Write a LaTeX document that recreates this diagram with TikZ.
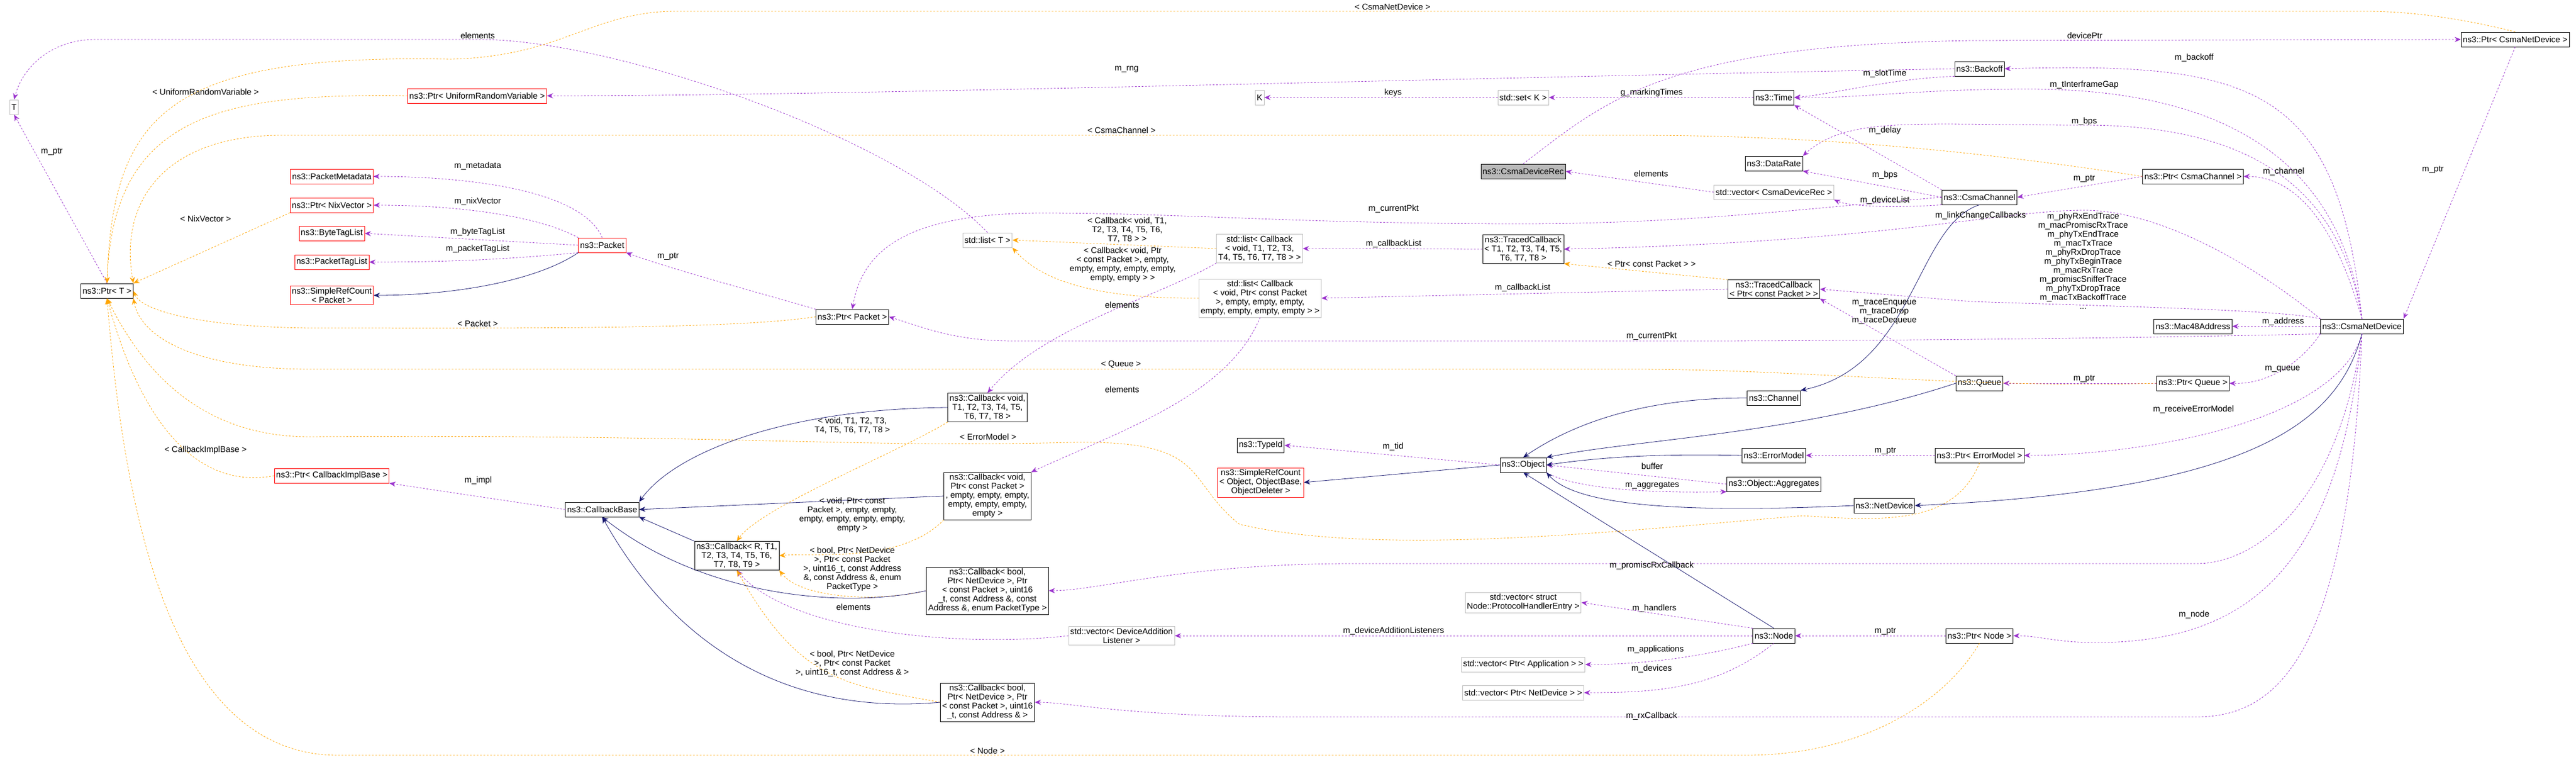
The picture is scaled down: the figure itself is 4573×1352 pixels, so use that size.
\documentclass[tikz,border=0pt]{standalone}
\usepackage{fontspec}
\setmainfont{Liberation Sans}
\usetikzlibrary{arrows.meta}
\definecolor{usecol}{HTML}{9A32CD}
\definecolor{tplcol}{HTML}{FFA500}
\definecolor{inhcol}{HTML}{191970}
\begin{document}
\begin{tikzpicture}[x=1pt,y=-1pt,
  cls/.style={draw=black,thick,fill=white,align=center,inner sep=3pt,minimum height=26pt,font=\fontsize{15}{16}\selectfont},
  redcls/.style={cls,draw=red},
  ext/.style={cls,draw=gray!50},
  sel/.style={cls,fill=gray!55},
  lbl/.style={align=center,inner sep=0pt,font=\fontsize{15}{16}\selectfont},
  use/.style={draw=usecol,dashed,thick,-{Stealth[length=11pt,width=9pt]}},
  tpl/.style={draw=tplcol,dashed,thick,-{Stealth[length=11pt,width=9pt]}},
  inh/.style={draw=inhcol,thick,-{Stealth[length=11pt,width=9pt]}}]
\useasboundingbox (0,0) rectangle (4573,1352);

% classes
\node[ext] (t) at (25,190) {T};
\node[cls] (ptrt) at (190,516) {ns3::Ptr< T >};
\node[redcls] (purv) at (847,170) {ns3::Ptr< UniformRandomVariable >};
\node[redcls] (pmeta) at (589,313) {ns3::PacketMetadata};
\node[redcls] (pnix) at (589,364) {ns3::Ptr< NixVector >};
\node[redcls] (pbyte) at (589,414) {ns3::ByteTagList};
\node[redcls] (ptag) at (589,465) {ns3::PacketTagList};
\node[redcls] (srcpkt) at (589,524) {ns3::SimpleRefCount\\< Packet >};
\node[redcls] (packet) at (1069,435) {ns3::Packet};
\node[redcls] (pcib) at (589,844) {ns3::Ptr< CallbackImplBase >};
\node[cls] (cbbase) at (1069,904) {ns3::CallbackBase};
\node[cls] (ppkt) at (1513,562) {ns3::Ptr< Packet >};
\node[ext] (listt) at (1753,426) {std::list< T >};
\node[cls] (cbv1) at (1753,723) {ns3::Callback< void,\\T1, T2, T3, T4, T5,\\T6, T7, T8 >};
\node[cls] (cbvp) at (1753,880) {ns3::Callback< void,\\Ptr< const Packet >\\, empty, empty, empty,\\empty, empty, empty,\\empty >};
\node[cls] (cbr) at (1308,986) {ns3::Callback< R, T1,\\T2, T3, T4, T5, T6,\\T7, T8, T9 >};
\node[cls] (cbpt) at (1753,1048) {ns3::Callback< bool,\\Ptr< NetDevice >, Ptr\\< const Packet >, uint16\\\_t, const Address \&, const\\Address \&, enum PacketType >};
\node[ext] (vdal) at (1991,1128) {std::vector< DeviceAddition\\Listener >};
\node[cls] (cbaddr) at (1753,1246) {ns3::Callback< bool,\\Ptr< NetDevice >, Ptr\\< const Packet >, uint16\\\_t, const Address \& >};
\node[ext] (k) at (2236,173) {K};
\node[ext] (lcb1) at (2236,441) {std::list< Callback\\< void, T1, T2, T3,\\T4, T5, T6, T7, T8 > >};
\node[ext] (lcbp) at (2237,529) {std::list< Callback\\< void, Ptr< const Packet\\>, empty, empty, empty,\\empty, empty, empty, empty > >};
\node[cls] (typeid) at (2238,790) {ns3::TypeId};
\node[redcls] (srcobj) at (2238,856) {ns3::SimpleRefCount\\< Object, ObjectBase,\\ObjectDeleter >};
\node[ext] (sset) at (2704,173) {std::set< K >};
\node[sel] (cdrec) at (2704,304) {ns3::CsmaDeviceRec};
\node[cls] (tcb1) at (2704,442) {ns3::TracedCallback\\< T1, T2, T3, T4, T5,\\T6, T7, T8 >};
\node[cls] (object) at (2704,825) {ns3::Object};
\node[ext] (vphe) at (2704,1069) {std::vector< struct\\Node::ProtocolHandlerEntry >};
\node[ext] (vapp) at (2704,1179) {std::vector< Ptr< Application > >};
\node[ext] (vdev) at (2704,1229) {std::vector< Ptr< NetDevice > >};
\node[cls] (time) at (3149,173) {ns3::Time};
\node[cls] (drate) at (3149,290) {ns3::DataRate};
\node[ext] (vcdrec) at (3149,341) {std::vector< CsmaDeviceRec >};
\node[cls] (tcbp) at (3149,513) {ns3::TracedCallback\\< Ptr< const Packet > >};
\node[cls] (channel) at (3149,706) {ns3::Channel};
\node[cls] (errm) at (3149,808) {ns3::ErrorModel};
\node[cls] (aggr) at (3149,859) {ns3::Object::Aggregates};
\node[cls] (node) at (3149,1128) {ns3::Node};
\node[cls] (netdev) at (3345,897) {ns3::NetDevice};
\node[cls] (backoff) at (3514,122) {ns3::Backoff};
\node[cls] (cchan) at (3514,350) {ns3::CsmaChannel};
\node[cls] (queue) at (3514,680) {ns3::Queue};
\node[cls] (perr) at (3514,808) {ns3::Ptr< ErrorModel >};
\node[cls] (pnode) at (3514,1128) {ns3::Ptr< Node >};
\node[cls] (pcchan) at (3893,313) {ns3::Ptr< CsmaChannel >};
\node[cls] (mac) at (3893,579) {ns3::Mac48Address};
\node[cls] (pqueue) at (3893,680) {ns3::Ptr< Queue >};
\node[cls] (cnd) at (4193,579) {ns3::CsmaNetDevice};
\node[cls] (pcnd) at (4465,70) {ns3::Ptr< CsmaNetDevice >};

% usage
\draw[use] (listt.north) .. controls (1600,250) and (1100,70) .. (850,70) -- (170,70) .. controls (90,70) and (40,120) .. (t.north);
\draw[use] (ptrt.north) -- (t.south);
\draw[use] (backoff.west) .. controls (2500,140) and (1500,170) .. (purv.east);
\draw[use] (packet.north) .. controls (1030,330) and (800,313) .. (pmeta.east);
\draw[use] (packet.north west) .. controls (950,380) and (800,364) .. (pnix.east);
\draw[use] (packet.west) -- (pbyte.east);
\draw[use] (packet.south west) .. controls (900,460) and (800,465) .. (ptag.east);
\draw[use] (ppkt.north west) .. controls (1350,520) and (1200,480) .. (packet.south east);
\draw[use] (cchan.west) .. controls (3200,370) and (3000,397) .. (2700,397) .. controls (2300,397) and (2100,378) .. (1850,378) .. controls (1600,378) and (1530,450) .. (ppkt.north);
\draw[use] (cnd.south west) .. controls (3800,600) and (3300,605) .. (3000,605) -- (1800,605) .. controls (1700,605) and (1650,585) .. (ppkt.east);
\draw[use] (sset.west) -- (k.east);
\draw[use] (time.west) -- (sset.east);
\draw[use] (backoff.south west) .. controls (3350,140) and (3250,168) .. (time.east);
\draw[use] (cnd.north) .. controls (4150,250) and (3900,158) .. (3600,158) .. controls (3400,158) and (3300,175) .. (time.east);
\draw[use] (cchan.north west) -- (time.south east);
\draw[use] (cdrec.north) .. controls (2850,180) and (2950,80) .. (3500,72) -- (pcnd.west);
\draw[use] (vcdrec.west) -- (cdrec.east);
\draw[use] (cchan.west) -- (drate.south east);
\draw[use] (cnd.north) .. controls (4150,300) and (3950,222) .. (3700,222) .. controls (3400,222) and (3280,205) .. (drate.north east);
\draw[use] (cchan.south west) .. controls (3350,370) and (3280,365) .. (vcdrec.south east);
\draw[use] (cnd.north) .. controls (4150,150) and (4000,110) .. (backoff.east);
\draw[use] (cnd.north) .. controls (4160,450) and (4100,313) .. (pcchan.east);
\draw[use] (pcchan.west) -- (cchan.east);
\draw[use] (pcnd.south) -- (cnd.north east);
\draw[use] (tcb1.west) -- (lcb1.east);
\draw[use] (tcbp.west) -- (lcbp.east);
\draw[use] (cnd.north west) .. controls (3950,430) and (3800,373) .. (3700,373) .. controls (3550,373) and (3350,430) .. (tcb1.east);
\draw[use] (cnd.north west) .. controls (4050,550) and (3800,545) .. (3500,535) -- (tcbp.east);
\draw[use] (queue.north west) -- (tcbp.south east);
\draw[use] (pqueue.west) -- (queue.east);
\draw[use] (cnd.south west) .. controls (4080,650) and (4020,682) .. (pqueue.east);
\draw[use] (cnd.west) -- (mac.east);
\draw[use] (cnd.south) .. controls (4150,750) and (3800,808) .. (perr.east);
\draw[use] (perr.west) -- (errm.east);
\draw[use] (cnd.south) .. controls (4150,900) and (4000,1000) .. (3900,1000) -- (2400,1000) .. controls (2100,1000) and (1950,1048) .. (cbpt.east);
\draw[use] (cnd.south) .. controls (4170,1150) and (4050,1272) .. (3900,1272) -- (2300,1272) .. controls (2000,1272) and (1900,1246) .. (cbaddr.east);
\draw[use] (cnd.south) .. controls (4150,1000) and (4000,1140) .. (3720,1140) .. controls (3650,1140) and (3620,1128) .. (pnode.east);
\draw[use] (pnode.west) -- (node.east);
\draw[use] (object.west) -- (typeid.east);
\draw[use] (aggr.west) -- (object.east);
\draw[use] (object.south east) .. controls (2800,870) and (2950,875) .. (aggr.south west);
\draw[use] (node.north west) -- (vphe.east);
\draw[use] (node.south west) .. controls (3000,1170) and (2900,1179) .. (vapp.east);
\draw[use] (node.south) .. controls (3050,1220) and (2950,1229) .. (vdev.east);
\draw[use] (node.west) -- (vdal.east);
\draw[use] (lcb1.south west) .. controls (2050,530) and (1850,580) .. (cbv1.north);
\draw[use] (lcbp.south) .. controls (2180,700) and (2000,760) .. (cbvp.north east);
\draw[use] (cbbase.west) -- (pcib.south east);
\draw[use] (vdal.west) .. controls (1700,1150) and (1400,1120) .. (cbr.south);

% templates
\draw[tpl] (pcnd.north) .. controls (4400,40) and (4300,20) .. (4200,20) -- (1200,20) .. controls (1050,20) and (1000,100) .. (800,105) .. controls (300,95) and (200,200) .. (ptrt.north);
\draw[tpl] (purv.west) .. controls (400,165) and (200,200) .. (ptrt.north);
\draw[tpl] (pcchan.west) .. controls (3400,250) and (3100,240) .. (2900,240) -- (500,240) .. controls (300,240) and (210,350) .. (ptrt.north east);
\draw[tpl] (pnix.south west) -- (ptrt.north east);
\draw[tpl] (ppkt.west) .. controls (1300,585) and (900,582) .. (550,582) .. controls (350,580) and (250,550) .. (ptrt.east);
\draw[tpl] (pqueue.west) .. controls (3500,690) and (3200,655) .. (2900,655) -- (550,655) .. controls (350,655) and (250,600) .. (ptrt.south east);
\draw[tpl] (perr.south) .. controls (3470,930) and (3350,925) .. (3200,915) .. controls (2900,940) and (2450,990) .. (2200,930) .. controls (2100,850) and (2150,780) .. (1900,785) .. controls (1500,795) and (1300,770) .. (550,775) .. controls (350,775) and (250,650) .. (ptrt.south);
\draw[tpl] (pcib.west) .. controls (350,870) and (250,750) .. (ptrt.south);
\draw[tpl] (pnode.south) .. controls (3450,1250) and (3300,1340) .. (3100,1340) -- (600,1340) .. controls (300,1340) and (220,900) .. (ptrt.south);
\draw[tpl] (lcb1.west) -- (listt.east);
\draw[tpl] (lcbp.west) .. controls (1950,530) and (1850,500) .. (listt.south east);
\draw[tpl] (tcbp.north west) -- (tcb1.south east);
\draw[tpl] (cbv1.south west) .. controls (1600,800) and (1350,900) .. (cbr.north);
\draw[tpl] (cbvp.south west) .. controls (1600,1000) and (1450,980) .. (cbr.east);
\draw[tpl] (cbpt.west) .. controls (1550,1070) and (1420,1060) .. (cbr.south east);
\draw[tpl] (cbaddr.west) .. controls (1500,1215) and (1420,1210) .. (cbr.south);

% inheritance
\draw[inh] (packet.south west) .. controls (950,500) and (800,524) .. (srcpkt.east);
\draw[inh] (cbv1.west) .. controls (1400,725) and (1200,800) .. (cbbase.north east);
\draw[inh] (cbvp.west) -- (cbbase.east);
\draw[inh] (cbr.north west) -- (cbbase.south east);
\draw[inh] (cbpt.west) .. controls (1500,1080) and (1250,1060) .. (cbbase.south);
\draw[inh] (cbaddr.west) .. controls (1400,1270) and (1200,1150) .. (cbbase.south);
\draw[inh] (cchan.south) .. controls (3400,400) and (3400,650) .. (channel.north east);
\draw[inh] (channel.west) .. controls (2900,706) and (2780,760) .. (object.north);
\draw[inh] (queue.west) .. controls (3200,770) and (2900,780) .. (object.north east);
\draw[inh] (errm.west) .. controls (2950,805) and (2850,810) .. (object.east);
\draw[inh] (netdev.west) .. controls (3000,910) and (2800,900) .. (object.south east);
\draw[inh] (node.north) -- (object.south);
\draw[inh] (object.west) -- (srcobj.east);
\draw[inh] (cnd.south) .. controls (4150,750) and (4000,870) .. (netdev.east);

% labels
\node[lbl] (l1) at (848,63) {elements};
\node[lbl] (l2) at (365,163) {< UniformRandomVariable >};
\node[lbl] (l3) at (92,269) {m\_ptr};
\node[lbl] (l4) at (848,295) {m\_metadata};
\node[lbl] (l5) at (848,358) {m\_nixVector};
\node[lbl] (l6) at (365,388) {< NixVector >};
\node[lbl] (l7) at (848,412) {m\_byteTagList};
\node[lbl] (l8) at (848,442) {m\_packetTagList};
\node[lbl] (l9) at (848,574) {< Packet >};
\node[lbl] (l10) at (365,799) {< CallbackImplBase >};
\node[lbl] (l11) at (849,853) {m\_impl};
\node[lbl] (l12) at (2000,123) {m\_rng};
\node[lbl] (l13) at (1991,231) {< CsmaChannel >};
\node[lbl] (l14) at (2001,408) {< Callback< void, T1,\\T2, T3, T4, T5, T6,\\T7, T8 > >};
\node[lbl] (l15) at (1993,470) {< Callback< void, Ptr\\< const Packet >, empty,\\empty, empty, empty, empty,\\empty, empty > >};
\node[lbl] (l16) at (1992,541) {elements};
\node[lbl] (l17) at (1990,647) {< Queue >};
\node[lbl] (l18) at (1992,691) {elements};
\node[lbl] (l19) at (1186,455) {m\_ptr};
\node[lbl] (l20) at (2472,12) {< CsmaNetDevice >};
\node[lbl] (l21) at (2473,165) {keys};
\node[lbl] (l22) at (2932,165) {g\_markingTimes};
\node[lbl] (l23) at (3346,131) {m\_slotTime};
\node[lbl] (l24) at (3346,232) {m\_delay};
\node[lbl] (l25) at (2931,308) {elements};
\node[lbl] (l26) at (3346,311) {m\_bps};
\node[lbl] (l27) at (3346,356) {m\_deviceList};
\node[lbl] (l28) at (2474,371) {m\_currentPkt};
\node[lbl] (l29) at (2474,433) {m\_callbackList};
\node[lbl] (l30) at (2932,468) {< Ptr< const Packet > >};
\node[lbl] (l31) at (2703,511) {m\_callbackList};
\node[lbl] (l32) at (3345,553) {m\_traceEnqueue\\m\_traceDrop\\m\_traceDequeue};
\node[lbl] (l33) at (2932,597) {m\_currentPkt};
\node[lbl] (l34) at (3701,63) {devicePtr};
\node[lbl] (l35) at (3895,103) {m\_backoff};
\node[lbl] (l36) at (3700,151) {m\_tInterframeGap};
\node[lbl] (l37) at (3700,216) {m\_bps};
\node[lbl] (l38) at (4054,305) {m\_channel};
\node[lbl] (l39) at (3700,317) {m\_ptr};
\node[lbl] (l40) at (3516,383) {m\_linkChangeCallbacks};
\node[lbl] (l41) at (4319,301) {m\_ptr};
\node[lbl] (l42) at (3698,463) {m\_phyRxEndTrace\\m\_macPromiscRxTrace\\m\_phyTxEndTrace\\m\_macTxTrace\\m\_phyRxDropTrace\\m\_phyTxBeginTrace\\m\_macRxTrace\\m\_promiscSnifferTrace\\m\_phyTxDropTrace\\m\_macTxBackoffTrace\\...};
\node[lbl] (l43) at (4053,571) {m\_address};
\node[lbl] (l44) at (4052,655) {m\_queue};
\node[lbl] (l45) at (3700,672) {m\_ptr};
\node[lbl] (l46) at (3894,727) {m\_receiveErrorModel};
\node[lbl] (l47) at (3895,1091) {m\_node};
\node[lbl] (l48) at (1513,755) {< void, T1, T2, T3,\\T4, T5, T6, T7, T8 >};
\node[lbl] (l49) at (1754,775) {< ErrorModel >};
\node[lbl] (l50) at (1513,914) {< void, Ptr< const\\Packet >, empty, empty,\\empty, empty, empty, empty,\\empty >};
\node[lbl] (l51) at (1513,1010) {< bool, Ptr< NetDevice\\>, Ptr< const Packet\\>, uint16\_t, const Address\\\&, const Address \&, enum\\PacketType >};
\node[lbl] (l52) at (1515,1077) {elements};
\node[lbl] (l53) at (1513,1178) {< bool, Ptr< NetDevice\\>, Ptr< const Packet\\>, uint16\_t, const Address \& >};
\node[lbl] (l54) at (1753,1332) {< Node >};
\node[lbl] (l55) at (2473,793) {m\_tid};
\node[lbl] (l56) at (2933,827) {buffer};
\node[lbl] (l57) at (2933,861) {m\_aggregates};
\node[lbl] (l58) at (3347,800) {m\_ptr};
\node[lbl] (l59) at (2932,1004) {m\_promiscRxCallback};
\node[lbl] (l60) at (2937,1080) {m\_handlers};
\node[lbl] (l61) at (2474,1120) {m\_deviceAdditionListeners};
\node[lbl] (l62) at (3347,1120) {m\_ptr};
\node[lbl] (l63) at (2939,1153) {m\_applications};
\node[lbl] (l64) at (2932,1187) {m\_devices};
\node[lbl] (l65) at (2932,1271) {m\_rxCallback};
\end{tikzpicture}
\end{document}
